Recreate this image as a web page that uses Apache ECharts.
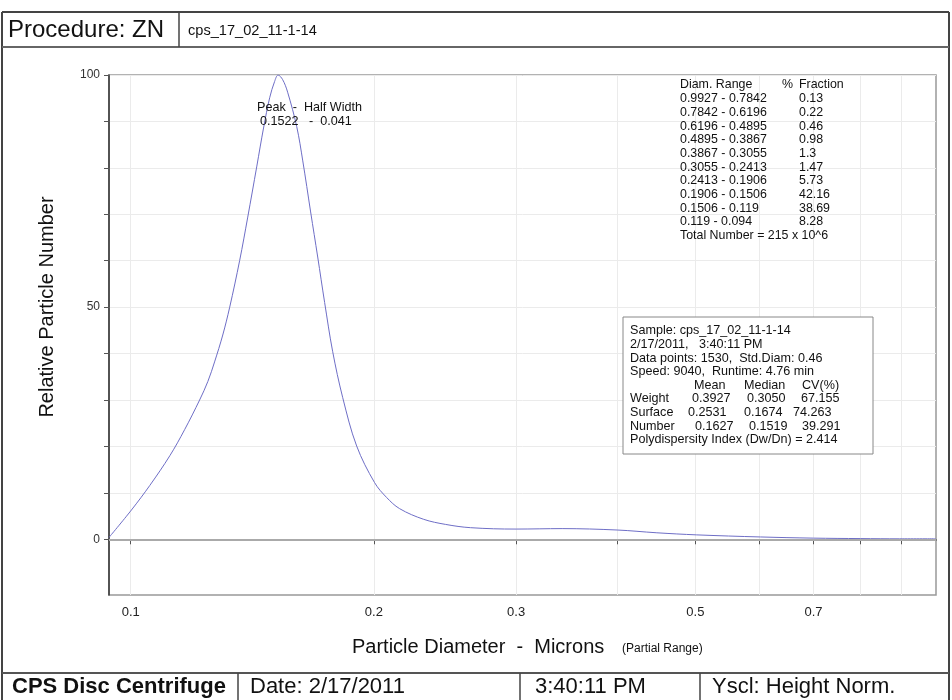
<!DOCTYPE html>
<html><head><meta charset="utf-8">
<script src="https://cdn.jsdelivr.net/npm/echarts@6/dist/echarts.min.js"></script>
<style>html,body{margin:0;padding:0;background:#fff}#c{width:952px;height:700px}</style>
</head><body><div id="c"></div>
<script>
// ---- data ----
const diameters = [0.094, 0.1002, 0.1056, 0.1118, 0.1166, 0.1217, 0.1246, 0.1270, 0.1300, 0.1326, 0.1364, 0.1396, 0.1432, 0.1461, 0.1486, 0.1507, 0.1522, 0.1542, 0.1564, 0.1605, 0.1633, 0.1670, 0.1704, 0.1738, 0.1778, 0.1830, 0.1904, 0.2004, 0.2074, 0.2152, 0.2305, 0.2454, 0.2634, 0.300, 0.342, 0.400, 0.448, 0.502, 0.602, 0.700, 0.801, 0.895, 0.9915];
const relNumber = [0.4, 6.3, 11.6, 18.0, 23.6, 30.0, 34.0, 38.2, 44.0, 50.0, 60.0, 69.4, 80.2, 88.8, 95.1, 98.6, 100, 99.0, 96.3, 88.9, 81.5, 70.5, 60.8, 51.0, 40.5, 30.5, 20.1, 12.2, 9.0, 6.6, 4.3, 3.2, 2.5, 2.2, 2.3, 2.0, 1.4, 0.95, 0.5, 0.25, 0.15, 0.1, 0.1];
const xTickValues = [0.1, 0.2, 0.3, 0.4, 0.5, 0.6, 0.7, 0.8, 0.9];
const xLabelValues = [0.1, 0.2, 0.3, 0.5, 0.7];
const yTickValues = [0, 10, 20, 30, 40, 50, 60, 70, 80, 90, 100];
const yLabelValues = [0, 50, 100];
const rangeLabels = ['0.9927 - 0.7842', '0.7842 - 0.6196', '0.6196 - 0.4895', '0.4895 - 0.3867', '0.3867 - 0.3055', '0.3055 - 0.2413', '0.2413 - 0.1906', '0.1906 - 0.1506', '0.1506 - 0.119', '0.119 - 0.094'];
const rangeFractions = ['0.13', '0.22', '0.46', '0.98', '1.3', '1.47', '5.73', '42.16', '38.69', '8.28'];
const statRows = ['Weight', 'Surface', 'Number'];
const statMean = ['0.3927', '0.2531', '0.1627'];
const statMedian = ['0.3050', '0.1674', '0.1519'];
const statCV = ['67.155', '74.263', '39.291'];

// ---- chart ----
const FONT = '"Liberation Sans", Arial, sans-serif';
const chart = echarts.init(document.getElementById('c'), null, {renderer: 'canvas'});

function txt(text, x, y, size, opts) {
  opts = opts || {};
  return {
    type: 'text', z: 100, silent: true, rotation: opts.rotation || 0, x: x, y: y,
    scaleX: opts.sx || 1,
    style: {
      text: text, x: 0, y: 0,
      font: (opts.weight || 'normal') + ' ' + size + 'px ' + FONT,
      fill: opts.color || '#111',
      align: opts.align || 'left', textAlign: opts.align || 'left',
      verticalAlign: opts.va || 'middle', textVerticalAlign: opts.va || 'middle'
    }
  };
}
function ln(x1, y1, x2, y2, w, c) {
  return {type: 'line', z: 90, silent: true, shape: {x1, y1, x2, y2}, style: {stroke: c || '#444', lineWidth: w || 1}};
}

const g = [];
// frame
g.push(ln(2, 12, 949, 12, 2));
g.push(ln(2, 12, 2, 700, 2));
g.push(ln(949, 12, 949, 700, 2));
g.push(ln(2, 47, 949, 47, 2, '#666'));
g.push(ln(179, 12, 179, 47, 1.5));
g.push(ln(2, 673, 949, 673, 2, '#555'));
g.push(ln(238, 673, 238, 700, 1.5));
g.push(ln(520, 673, 520, 700, 1.5));
g.push(ln(700, 673, 700, 700, 1.5));
// header/footer texts
g.push(txt('Procedure: ZN', 8, 30, 24));
g.push(txt('cps_17_02_11-1-14', 188, 31, 14.6));
g.push(txt('CPS Disc Centrifuge', 12, 687, 22, {weight: 'bold'}));
g.push(txt('Date: 2/17/2011', 250, 687, 22));
g.push(txt('3:40:11 PM', 535, 687, 22));
g.push(txt('Yscl: Height Norm.', 712, 687, 22));
// axis titles
g.push(txt('Relative Particle Number', 47, 307, 20, {rotation: Math.PI / 2, align: 'center'}));
g.push(txt('Particle Diameter  -  Microns', 352, 657, 20, {va: 'bottom'}));
g.push(txt('(Partial Range)', 622, 655, 12, {va: 'bottom'}));
// peak annotation
g.push(txt('Peak  -  Half Width', 257, 108, 12.6));
g.push(txt('0.1522   -  0.041', 260, 122, 12.6));
// fraction table
const tY0 = 85, tDy = 13.7;
g.push(txt('Diam. Range', 680, tY0, 12.4));
g.push(txt('%', 782, tY0, 12.4));
g.push(txt('Fraction', 799, tY0, 12.4));
rangeLabels.forEach((r, i) => {
  g.push(txt(r, 680, tY0 + (i + 1) * tDy, 12.4));
  g.push(txt(rangeFractions[i], 799, tY0 + (i + 1) * tDy, 12.4));
});
g.push(txt('Total Number = 215 x 10^6', 680, tY0 + 11 * tDy, 12.4));
// info box
g.push({type: 'rect', z: 95, silent: true, shape: {x: 623, y: 317, width: 250, height: 137}, style: {fill: '#fff', stroke: '#888', lineWidth: 1}});
const iY0 = 331, iDy = 13.6, iX = 630, iF = 12.6;
g.push(txt('Sample: cps_17_02_11-1-14', iX, iY0, iF));
g.push(txt('2/17/2011,   3:40:11 PM', iX, iY0 + iDy, iF));
g.push(txt('Data points: 1530,  Std.Diam: 0.46', iX, iY0 + 2 * iDy, iF));
g.push(txt('Speed: 9040,  Runtime: 4.76 min', iX, iY0 + 3 * iDy, iF));
g.push(txt('Mean', 694, iY0 + 4 * iDy, iF));
g.push(txt('Median', 744, iY0 + 4 * iDy, iF));
g.push(txt('CV(%)', 802, iY0 + 4 * iDy, iF));
const meanX = [692, 688, 695], medX = [747, 744, 749], cvX = [801, 793, 802];
statRows.forEach((r, i) => {
  const y = iY0 + (5 + i) * iDy;
  g.push(txt(r, iX, y, iF));
  g.push(txt(statMean[i], meanX[i], y, iF));
  g.push(txt(statMedian[i], medX[i], y, iF));
  g.push(txt(statCV[i], cvX[i], y, iF));
});
g.push(txt('Polydispersity Index (Dw/Dn) = 2.414', iX, iY0 + 8 * iDy, iF));

const option = {
  animation: false,
  backgroundColor: '#fff',
  grid: {left: 109, right: 16, top: 75, bottom: 105, show: true, borderColor: '#999', borderWidth: 1.5, outerBoundsMode: 'none', containLabel: false},
  xAxis: {
    type: 'log', logBase: 10, min: 0.094, max: 0.9927,
    axisLine: {show: true, lineStyle: {color: '#333', width: 1.5}},
    axisTick: {show: true, length: 5, inside: false, customValues: xTickValues, lineStyle: {color: '#555'}},
    axisLabel: {show: true, customValues: xLabelValues, margin: 11, fontSize: 13, color: '#222', fontFamily: FONT,
      formatter: v => String(Math.round(v * 10) / 10)},
    splitLine: {show: true, lineStyle: {color: '#ebebeb', width: 1}},
    minorTick: {show: false}
  },
  yAxis: {
    type: 'value', min: -12, max: 100,
    axisLine: {show: true, lineStyle: {color: '#333', width: 1.5}},
    axisTick: {show: true, length: 5, customValues: yTickValues, lineStyle: {color: '#555'}},
    axisLabel: {show: true, customValues: yLabelValues, margin: 9, fontSize: 12, color: '#333', fontFamily: FONT},
    splitLine: {show: true, lineStyle: {color: '#ebebeb', width: 1}}
  },
  series: [{
    type: 'line',
    data: diameters.map((d, i) => [d, relNumber[i]]),
    showSymbol: false, smooth: 0.35,
    lineStyle: {color: '#6e6ec6', width: 1},
    markLine: {
      silent: true, symbol: 'none', label: {show: false},
      lineStyle: {color: '#aaa', width: 2, type: 'solid'},
      data: [{yAxis: 0}]
    }
  }],
  graphic: {elements: g}
};
chart.setOption(option);
</script>
</body></html>
